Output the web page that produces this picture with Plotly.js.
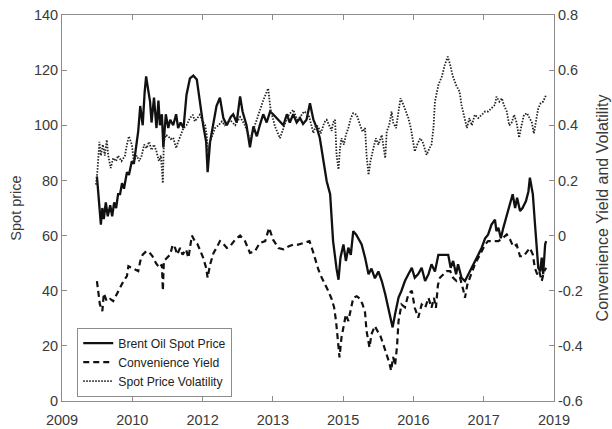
<!DOCTYPE html>
<html>
<head>
<meta charset="utf-8">
<script src="https://cdn.plot.ly/plotly-3.0.1.min.js"></script>
<style>html,body{margin:0;padding:0;background:#fff;}#chart{width:612px;height:429px;}</style>
</head>
<body>
<div id="chart"></div>
<script>
// x positions are decimal years on the chart's time axis
const brentYear = [2009.71,2009.74,2009.79,2009.82,2009.85,2009.89,2009.93,2009.98,2010.02,2010.06,2010.10,2010.14,2010.18,2010.22,2010.26,2010.32,2010.36,2010.42,2010.46,2010.52,2010.55,2010.59,2010.64,2010.68,2010.71,2010.75,2010.79,2010.82,2010.87,2010.92,2010.96,2010.99,2011.03,2011.06,2011.11,2011.16,2011.20,2011.26,2011.32,2011.36,2011.41,2011.47,2011.53,2011.60,2011.67,2011.74,2011.80,2011.87,2011.93,2011.96,2012.01,2012.08,2012.14,2012.21,2012.28,2012.35,2012.38,2012.43,2012.48,2012.55,2012.62,2012.67,2012.75,2012.82,2012.89,2012.96,2013.02,2013.09,2013.16,2013.23,2013.29,2013.36,2013.43,2013.50,2013.57,2013.63,2013.70,2013.77,2013.84,2013.90,2013.97,2014.04,2014.11,2014.18,2014.24,2014.31,2014.38,2014.45,2014.48,2014.51,2014.58,2014.62,2014.66,2014.72,2014.77,2014.82,2014.87,2014.92,2014.98,2015.02,2015.09,2015.16,2015.23,2015.29,2015.36,2015.43,2015.50,2015.57,2015.63,2015.67,2015.72,2015.77,2015.84,2015.90,2015.97,2016.04,2016.11,2016.17,2016.24,2016.31,2016.38,2016.45,2016.51,2016.58,2016.65,2016.72,2016.78,2016.85,2016.90,2016.95,2017.01,2017.05,2017.12,2017.19,2017.26,2017.33,2017.39,2017.46,2017.53,2017.60,2017.66,2017.73,2017.80,2017.83,2017.87,2017.92,2017.97,2018.04,2018.11,2018.16,2018.21,2018.25,2018.31,2018.36,2018.43,2018.48,2018.51,2018.57,2018.61,2018.65,2018.68,2018.72,2018.75,2018.78,2018.82,2018.84];
const brentPrice = [81.5,75,64,70,66,72,67,71,67,72,70,75,75,79,77,83,82,87,86,94,98,107,100,112,117.7,113,108.6,101,110,99,109,100,104,92,104,99,102,100,104,99,101,99,111,117,118,116.6,108.6,100,94,83,94,101,107,110,102.6,100,101,103,104,101,110.5,105,100,92,99.6,96,100,104,101,105,104,102.6,101,100,104,101,104,101,102.6,100.5,102,108,102,99,95.4,88,79.7,75,67.7,58,48,44,52,56.8,50.8,55.6,53,61.6,60.3,59,56.8,52,46,48,44.5,47,43.5,38.7,34,31.5,26.7,31.5,37.5,40,43.5,46,48.3,44.7,46,48.3,43.5,46,49.6,47,53,53,53,53,48.3,50.8,46,49.6,44.7,43.5,46,48.3,50.8,53,55.6,59,60.3,64,65.8,61.6,62.8,59,62.8,67.7,72.5,75,70,73.7,68.9,70,72.5,76,81,75,65,55.6,48.3,47,52,46,56.8,58];

const cyYear = [2009.71,2009.74,2009.77,2009.82,2009.85,2009.91,2009.98,2010.04,2010.11,2010.18,2010.25,2010.32,2010.35,2010.42,2010.48,2010.55,2010.59,2010.64,2010.71,2010.77,2010.84,2010.91,2010.98,2011.03,2011.05,2011.07,2011.13,2011.20,2011.25,2011.30,2011.34,2011.40,2011.45,2011.52,2011.57,2011.64,2011.70,2011.75,2011.80,2011.87,2011.93,2011.96,2012.01,2012.08,2012.14,2012.21,2012.28,2012.35,2012.41,2012.52,2012.62,2012.72,2012.82,2012.92,2013.02,2013.13,2013.21,2013.29,2013.40,2013.50,2013.60,2013.70,2013.80,2013.90,2014.03,2014.10,2014.14,2014.21,2014.28,2014.35,2014.41,2014.48,2014.53,2014.57,2014.62,2014.64,2014.68,2014.73,2014.77,2014.82,2014.87,2014.92,2014.99,2015.06,2015.11,2015.16,2015.19,2015.25,2015.29,2015.36,2015.41,2015.46,2015.53,2015.60,2015.65,2015.69,2015.73,2015.77,2015.81,2015.84,2015.90,2015.97,2016.04,2016.11,2016.17,2016.24,2016.31,2016.38,2016.45,2016.51,2016.56,2016.60,2016.64,2016.68,2016.75,2016.82,2016.89,2016.95,2017.02,2017.09,2017.16,2017.19,2017.24,2017.31,2017.39,2017.46,2017.53,2017.60,2017.66,2017.77,2017.87,2017.96,2018.04,2018.11,2018.17,2018.24,2018.31,2018.38,2018.44,2018.51,2018.57,2018.61,2018.66,2018.70,2018.75,2018.80,2018.84];
const cyValue = [-0.165,-0.213,-0.25,-0.274,-0.21,-0.238,-0.23,-0.238,-0.213,-0.19,-0.165,-0.147,-0.111,-0.117,-0.123,-0.129,-0.093,-0.069,-0.057,-0.06,-0.075,-0.1,-0.117,-0.105,-0.2,-0.093,-0.081,-0.069,-0.033,-0.045,-0.069,-0.045,-0.069,-0.05,-0.081,0.0,-0.02,-0.03,-0.05,-0.081,-0.117,-0.153,-0.105,-0.063,-0.045,-0.02,-0.03,-0.045,-0.04,-0.015,0.0,-0.02,-0.063,-0.057,-0.027,-0.02,0.028,-0.015,-0.045,-0.05,-0.04,-0.033,-0.033,-0.027,-0.02,-0.057,-0.081,-0.123,-0.153,-0.177,-0.2,-0.23,-0.26,-0.31,-0.394,-0.442,-0.37,-0.322,-0.286,-0.31,-0.262,-0.226,-0.22,-0.23,-0.25,-0.28,-0.346,-0.406,-0.358,-0.328,-0.346,-0.358,-0.394,-0.43,-0.46,-0.49,-0.44,-0.47,-0.40,-0.31,-0.25,-0.26,-0.213,-0.2,-0.262,-0.298,-0.25,-0.262,-0.226,-0.262,-0.226,-0.262,-0.18,-0.153,-0.141,-0.129,-0.129,-0.153,-0.165,-0.153,-0.2,-0.226,-0.177,-0.141,-0.105,-0.081,-0.057,-0.033,-0.02,-0.02,-0.02,-0.009,0.004,-0.015,-0.04,-0.033,-0.075,-0.075,-0.063,-0.045,-0.069,-0.117,-0.141,-0.129,-0.165,-0.129,-0.117];

const volYear = [2009.69,2009.72,2009.76,2009.79,2009.83,2009.87,2009.91,2009.94,2009.99,2010.04,2010.10,2010.14,2010.21,2010.28,2010.32,2010.36,2010.42,2010.46,2010.52,2010.57,2010.62,2010.67,2010.72,2010.77,2010.82,2010.87,2010.92,2010.97,2011.01,2011.05,2011.07,2011.11,2011.16,2011.21,2011.26,2011.32,2011.36,2011.41,2011.47,2011.53,2011.60,2011.66,2011.70,2011.75,2011.80,2011.86,2011.91,2011.94,2011.97,2012.01,2012.06,2012.11,2012.18,2012.25,2012.31,2012.41,2012.52,2012.62,2012.72,2012.82,2012.92,2013.02,2013.09,2013.19,2013.24,2013.33,2013.43,2013.54,2013.62,2013.70,2013.78,2013.84,2013.92,2014.01,2014.11,2014.16,2014.21,2014.26,2014.33,2014.38,2014.43,2014.48,2014.51,2014.55,2014.58,2014.62,2014.65,2014.68,2014.73,2014.77,2014.82,2014.87,2014.92,2014.99,2015.06,2015.11,2015.16,2015.19,2015.23,2015.27,2015.33,2015.38,2015.43,2015.50,2015.52,2015.57,2015.60,2015.65,2015.70,2015.73,2015.79,2015.84,2015.88,2015.94,2015.99,2016.04,2016.09,2016.14,2016.17,2016.22,2016.28,2016.33,2016.38,2016.41,2016.47,2016.51,2016.55,2016.58,2016.65,2016.72,2016.78,2016.84,2016.89,2016.94,2017.01,2017.08,2017.12,2017.17,2017.23,2017.28,2017.33,2017.39,2017.46,2017.53,2017.60,2017.66,2017.73,2017.80,2017.83,2017.89,2017.94,2017.98,2018.04,2018.09,2018.14,2018.19,2018.24,2018.29,2018.34,2018.39,2018.45,2018.50,2018.55,2018.59,2018.63,2018.68,2018.73,2018.78,2018.84];
const volValue = [0.185,0.233,0.34,0.29,0.33,0.29,0.347,0.29,0.245,0.281,0.27,0.29,0.27,0.29,0.33,0.36,0.33,0.27,0.29,0.27,0.29,0.33,0.317,0.34,0.31,0.33,0.305,0.27,0.29,0.19,0.34,0.365,0.36,0.35,0.355,0.317,0.34,0.365,0.39,0.40,0.426,0.438,0.414,0.426,0.438,0.414,0.40,0.365,0.305,0.34,0.365,0.39,0.40,0.414,0.40,0.42,0.40,0.43,0.40,0.347,0.40,0.456,0.49,0.534,0.456,0.395,0.353,0.41,0.44,0.456,0.42,0.43,0.45,0.44,0.372,0.40,0.395,0.37,0.41,0.42,0.40,0.38,0.41,0.42,0.293,0.24,0.317,0.353,0.33,0.365,0.39,0.426,0.444,0.438,0.40,0.377,0.39,0.293,0.22,0.27,0.317,0.353,0.33,0.365,0.34,0.281,0.377,0.40,0.45,0.41,0.39,0.462,0.498,0.474,0.45,0.426,0.39,0.34,0.305,0.33,0.353,0.34,0.305,0.293,0.317,0.33,0.39,0.486,0.546,0.576,0.619,0.649,0.619,0.58,0.546,0.522,0.474,0.438,0.39,0.426,0.40,0.438,0.426,0.438,0.45,0.45,0.462,0.474,0.504,0.486,0.498,0.474,0.45,0.40,0.41,0.438,0.41,0.355,0.40,0.438,0.444,0.426,0.41,0.37,0.41,0.462,0.48,0.486,0.51];

const xTickLabels = ['2009','2010','2012','2013','2015','2016','2017','2019'];
const yTickLabels = ['0','20','40','60','80','100','120','140'];
const y2TickLabels = ['-0.6','-0.4','-0.2','0','0.2','0.4','0.6','0.8'];
const seriesNames = ['Brent Oil Spot Price','Convenience Yield','Spot Price Volatility'];

const xStart = 2009, xEnd = 2019;
const xTickVals = xTickLabels.map((_, i) => xStart + i * (xEnd - xStart) / (xTickLabels.length - 1));
const yTickVals = yTickLabels.map(Number);
const y2TickVals = y2TickLabels.map(Number);

const axisColor = '#8c8c8c';
const textColor = '#3a3a3a';
const FONT = 'Liberation Sans, Arial, sans-serif';

const traces = [
  {x: brentYear, y: brentPrice, name: seriesNames[0], type: 'scatter', mode: 'lines',
   line: {color: '#111', width: 2.3}, yaxis: 'y'},
  {x: cyYear, y: cyValue, name: seriesNames[1], type: 'scatter', mode: 'lines',
   line: {color: '#111', width: 2.2, dash: '6px,4px'}, yaxis: 'y2'},
  {x: volYear, y: volValue, name: seriesNames[2], type: 'scatter', mode: 'lines',
   line: {color: '#222', width: 1.8, dash: '1.5px,1.5px'}, yaxis: 'y2'}
];

const layout = {
  width: 612, height: 429,
  margin: {l: 62, r: 58, t: 15, b: 28, pad: 0},
  paper_bgcolor: '#fff', plot_bgcolor: '#fff',
  font: {family: FONT, size: 14.5, color: textColor},
  showlegend: true,
  legend: {x: 0.031, y: 0.19, xanchor: 'left', yanchor: 'top',
    bgcolor: '#fff', bordercolor: axisColor, borderwidth: 1,
    font: {family: FONT, size: 12.2, color: '#222'}, tracegroupgap: 0},
  xaxis: {range: [xStart, xEnd], tickmode: 'array', tickvals: xTickVals, ticktext: xTickLabels,
    ticks: 'inside', ticklen: 5, tickcolor: axisColor, tickwidth: 1, ticklabelstandoff: 6,
    showline: true, linecolor: axisColor, linewidth: 1, mirror: 'ticks',
    showgrid: false, zeroline: false, tickfont: {size: 14.5, color: textColor}},
  yaxis: {range: [0, 140], tickmode: 'array', tickvals: yTickVals, ticktext: yTickLabels,
    ticks: 'inside', ticklen: 5, tickcolor: axisColor,
    showline: true, linecolor: axisColor, linewidth: 1,
    showgrid: false, zeroline: false, tickfont: {size: 14.5, color: textColor},
    title: {text: 'Spot price', font: {size: 14.5, color: textColor}, standoff: 8}},
  yaxis2: {range: [-0.6, 0.8], overlaying: 'y', side: 'right', tickmode: 'array',
    tickvals: y2TickVals, ticktext: y2TickLabels,
    ticks: 'inside', ticklen: 5, tickcolor: axisColor,
    showline: true, linecolor: axisColor, linewidth: 1,
    showgrid: false, zeroline: false, tickfont: {size: 14.5, color: textColor},
    title: {text: 'Convenience Yield and Volatility', font: {size: 16, color: textColor}, standoff: 14}}
};

Plotly.newPlot('chart', traces, layout, {displayModeBar: false, staticPlot: true});
</script>
</body>
</html>
